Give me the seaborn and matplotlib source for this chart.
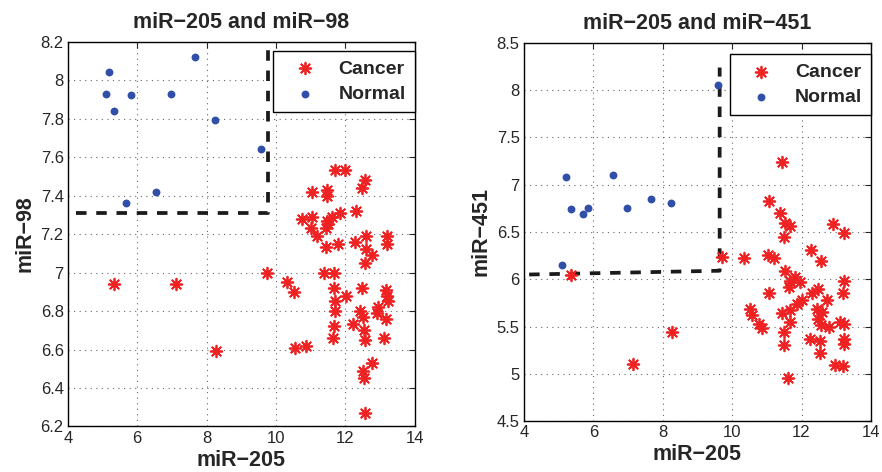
import matplotlib
matplotlib.use("Agg")
import matplotlib.pyplot as plt
import seaborn as sns
import pandas as pd

# ---- data: left panel (miR-205 vs miR-98) ----
left_normal_x = [5.09, 5.19, 5.34, 5.82, 6.97, 7.66, 8.24, 9.56, 6.55, 5.69]
left_normal_y = [7.93, 8.04, 7.84, 7.92, 7.93, 8.12, 7.79, 7.64, 7.42, 7.36]
left_cancer_x = [11.70, 11.99, 12.58, 12.47, 11.04, 11.48, 11.48, 12.30, 10.75, 11.04,
                 11.62, 11.86, 11.48, 11.51, 11.01, 11.46, 11.19, 11.46, 11.80, 12.27,
                 12.60, 13.21, 13.21, 12.60, 12.76, 12.56, 9.74, 11.40, 11.69, 10.32,
                 10.51, 11.69, 12.01, 12.47, 11.70, 11.70, 12.44, 12.52, 12.95, 12.92,
                 13.19, 13.21, 13.24, 13.19, 11.69, 12.23, 12.55, 12.58, 13.11, 11.64,
                 10.56, 10.88, 12.78, 12.51, 12.54, 12.57, 5.34, 7.12, 8.27]
left_cancer_y = [7.53, 7.53, 7.48, 7.44, 7.42, 7.43, 7.40, 7.32, 7.28, 7.29,
                 7.29, 7.31, 7.27, 7.25, 7.23, 7.23, 7.19, 7.13, 7.15, 7.16,
                 7.19, 7.19, 7.15, 7.12, 7.09, 7.05, 7.00, 7.00, 7.00, 6.95,
                 6.90, 6.92, 6.88, 6.92, 6.85, 6.80, 6.80, 6.77, 6.82, 6.79,
                 6.91, 6.88, 6.85, 6.76, 6.72, 6.73, 6.70, 6.65, 6.66, 6.66,
                 6.61, 6.62, 6.53, 6.49, 6.45, 6.27, 6.94, 6.94, 6.59]
left_bound_x = [4.22, 9.77, 9.77]
left_bound_y = [7.31, 7.31, 8.17]

# ---- data: right panel (miR-205 vs miR-451) ----
right_normal_x = [9.60, 5.22, 6.57, 5.36, 5.70, 5.85, 6.98, 7.67, 8.25, 5.10]
right_normal_y = [8.06, 7.08, 7.10, 6.74, 6.69, 6.75, 6.75, 6.85, 6.81, 6.15]
right_cancer_x = [11.45, 11.05, 11.38, 11.51, 11.67, 11.50, 12.92, 13.21, 9.72, 10.33,
                  11.03, 11.21, 12.28, 12.56, 11.51, 11.80, 11.67, 11.96, 11.65, 13.21,
                  11.05, 12.47, 12.30, 13.18, 12.01, 11.87, 12.73, 10.52, 10.57, 11.45,
                  11.67, 12.44, 12.58, 11.67, 12.46, 10.76, 10.86, 12.56, 12.78, 13.11,
                  13.23, 11.50, 12.25, 12.54, 13.21, 13.23, 11.48, 12.54, 12.97, 13.19,
                  11.62, 5.36, 8.28, 7.14]
right_cancer_y = [7.24, 6.83, 6.70, 6.59, 6.56, 6.45, 6.58, 6.49, 6.24, 6.22,
                  6.26, 6.22, 6.31, 6.19, 6.09, 6.02, 5.98, 5.97, 5.92, 5.98,
                  5.85, 5.90, 5.85, 5.85, 5.78, 5.74, 5.78, 5.69, 5.62, 5.64,
                  5.67, 5.69, 5.65, 5.55, 5.58, 5.53, 5.48, 5.52, 5.50, 5.55,
                  5.53, 5.44, 5.37, 5.35, 5.37, 5.32, 5.30, 5.22, 5.09, 5.08,
                  4.95, 6.04, 5.44, 5.10]
right_bound_x = [4.15, 9.64, 9.64]
right_bound_y = [6.05, 6.09, 8.24]

xlabel = "miR\u2212205"
x_ticks = [4, 6, 8, 10, 12, 14]
left_yticks = [6.2, 6.4, 6.6, 6.8, 7.0, 7.2, 7.4, 7.6, 7.8, 8.0, 8.2]
right_yticks = [4.5, 5.0, 5.5, 6.0, 6.5, 7.0, 7.5, 8.0, 8.5]

panels = [
    dict(cx=left_cancer_x, cy=left_cancer_y, nx=left_normal_x, ny=left_normal_y,
         bx=left_bound_x, by=left_bound_y, title="miR\u2212205 and miR\u221298",
         ylabel="miR\u221298", ylim=(6.2, 8.2), yticks=left_yticks,
         rect=[0.077, 0.0964, 0.393, 0.8156], legtop=0.975),
    dict(cx=right_cancer_x, cy=right_cancer_y, nx=right_normal_x, ny=right_normal_y,
         bx=right_bound_x, by=right_bound_y, title="miR\u2212205 and miR\u2212451",
         ylabel="miR\u2212451", ylim=(4.5, 8.5), yticks=right_yticks,
         rect=[0.594, 0.108, 0.3935, 0.801], legtop=0.97),
]


def fmt(v):
    # MATLAB-style tick labels: drop trailing ".0"
    s = "{:.1f}".format(v)
    return s[:-2] if s.endswith(".0") else s


sns.set_style("white")
plt.rcParams['font.family'] = ['Liberation Sans', 'DejaVu Sans']

fig = plt.figure(figsize=(8.82, 4.72), dpi=100)
red = "#ee2222"
blue = "#2f4fa8"
asterisk = (8, 2, 0)

for p in panels:
    ax = fig.add_axes(p["rect"])
    cancer = pd.DataFrame({"x": p["cx"], "y": p["cy"]})
    normal = pd.DataFrame({"x": p["nx"], "y": p["ny"]})
    sns.scatterplot(data=cancer, x="x", y="y", marker=asterisk, s=70,
                    color=red, edgecolor=red, linewidth=1.3, ax=ax, label="Cancer", zorder=3)
    sns.scatterplot(data=normal, x="x", y="y", marker="o", s=32,
                    color=blue, edgecolor=blue, linewidth=0, ax=ax, label="Normal", zorder=3)
    ax.plot(p["bx"], p["by"], color="#1a1a1a", linestyle=(0, (2.8, 2.6)), linewidth=2.7, zorder=2)

    ax.set_xlim(4, 14)
    ax.set_ylim(*p["ylim"])
    ax.set_xticks(x_ticks)
    ax.set_xticklabels([str(t) for t in x_ticks], fontsize=12)
    ax.set_yticks(p["yticks"])
    ax.set_yticklabels([fmt(v) for v in p["yticks"]], fontsize=12)
    ax.tick_params(direction="in", length=4, width=0.8, top=True, right=True, pad=3)
    ax.grid(True, linestyle=(0, (1, 4)), color="#666666", linewidth=0.8)
    for sp in ax.spines.values():
        sp.set_color("black")
        sp.set_linewidth(1.0)
        sp.set_visible(True)

    ax.set_title(p["title"], fontsize=15.5, fontweight="bold", pad=10)
    ax.set_xlabel(xlabel, fontsize=15.5, fontweight="bold", labelpad=3)
    ax.set_ylabel(p["ylabel"], fontsize=15.5, fontweight="bold", labelpad=4)

    leg = ax.legend(loc="upper right", bbox_to_anchor=(1.0, p["legtop"]),
                    prop={"weight": "bold", "size": 14},
                    frameon=True, fancybox=False, borderaxespad=0.0,
                    handlelength=2.3, handletextpad=0.6, labelspacing=0.4, borderpad=0.45)
    leg.get_frame().set_edgecolor("black")
    leg.get_frame().set_linewidth(1.0)
    leg.get_frame().set_alpha(1)

fig.savefig("out.png", dpi=100)
